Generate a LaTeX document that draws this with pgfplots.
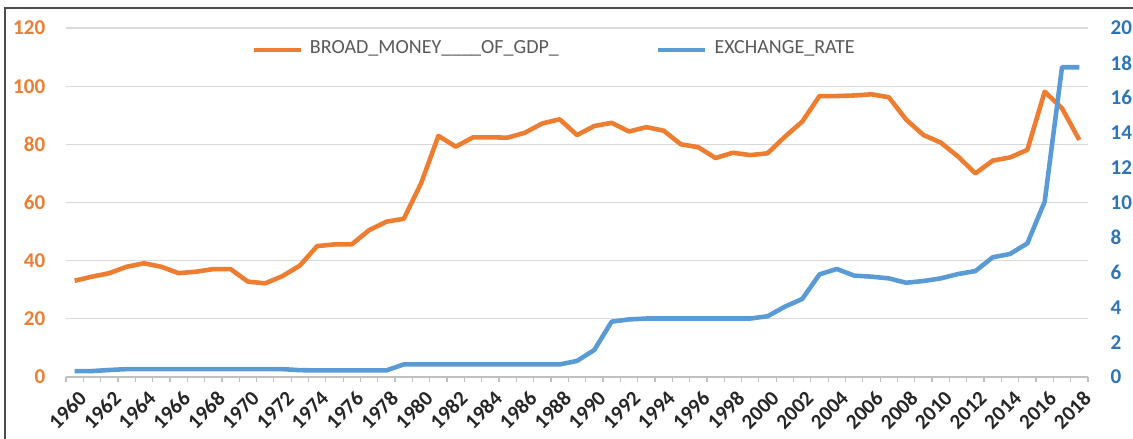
\documentclass[border=0pt]{standalone}
\usepackage{fontspec}
\setmainfont{Carlito}
\usepackage{pgfplots}
\usepackage{pgfplotstable}
\pgfplotsset{compat=1.18}

\definecolor{bmorange}{HTML}{ED7D31}
\definecolor{xrblue}{HTML}{5B9BD5}
\definecolor{xrtick}{HTML}{2E75B6}
\definecolor{gridgray}{HTML}{D9D9D9}
\definecolor{axisgray}{HTML}{BFBFBF}
\definecolor{legtext}{HTML}{595959}

% year, broad money (% of GDP), exchange rate
\pgfplotstableread{
year bm xr
1960 33.1 0.34
1961 34.5 0.34
1962 35.7 0.40
1963 37.9 0.45
1964 39.1 0.45
1965 37.9 0.45
1966 35.7 0.45
1967 36.2 0.45
1968 37.1 0.45
1969 37.1 0.45
1970 32.8 0.45
1971 32.2 0.45
1972 34.7 0.45
1973 38.3 0.39
1974 45.0 0.38
1975 45.6 0.38
1976 45.6 0.38
1977 50.5 0.38
1978 53.4 0.38
1979 54.4 0.72
1980 66.6 0.72
1981 82.9 0.72
1982 79.2 0.72
1983 82.4 0.72
1984 82.4 0.72
1985 82.3 0.72
1986 84.0 0.72
1987 87.2 0.72
1988 88.6 0.72
1989 83.2 0.92
1990 86.3 1.55
1991 87.4 3.17
1992 84.4 3.30
1993 85.9 3.35
1994 84.7 3.35
1995 80.0 3.35
1996 79.0 3.35
1997 75.3 3.35
1998 77.1 3.35
1999 76.3 3.35
2000 76.9 3.48
2001 82.6 4.03
2002 87.8 4.47
2003 96.6 5.88
2004 96.6 6.19
2005 96.8 5.81
2006 97.2 5.75
2007 96.2 5.65
2008 88.5 5.40
2009 83.2 5.50
2010 80.6 5.65
2011 75.8 5.90
2012 70.0 6.07
2013 74.4 6.86
2014 75.5 7.05
2015 78.1 7.66
2016 98.1 10.05
2017 92.4 17.75
2018 81.5 17.75
}\datatable

\begin{document}
\begin{tikzpicture}
\useasboundingbox (0,0) rectangle (11.33cm,4.39cm);
% outer chart frame (only left and top edges visible)
\draw[gray!60!black, line width=0.4pt] (0.05cm,0) -- (0.05cm,4.31cm) -- (11.33cm,4.31cm);

\begin{axis}[
  at={(0.66cm,0.62cm)}, anchor=south west,
  scale only axis, width=10.22cm, height=3.49cm,
  xmin=1959.5, xmax=2018.5,
  ymin=0, ymax=120,
  axis x line*=bottom, axis y line*=left,
  x axis line style={draw=axisgray, line width=0.35pt},
  y axis line style={draw=none},
  xtick={1960,1962,...,2018},
  minor xtick={1959.5,1960.5,...,2018.5},
  major tick length=0pt,
  minor tick length=0.05cm,
  xtick align=outside,
  minor x tick style={draw=axisgray, line width=0.35pt},
  ytick={0,20,...,120},
  ymajorgrids,
  grid style={draw=gridgray, line width=0.35pt},
  /pgf/number format/assume math mode=true,
  xticklabel={\pgfmathprintnumber[1000 sep={}]{\tick}},
  xticklabel style={font=\fontsize{6}{7}\selectfont\bfseries, text=black!85,
    rotate=45, anchor=north east, inner sep=1pt, yshift=-0.07cm, xshift=-0.03cm},
  yticklabel style={font=\fontsize{6}{7}\selectfont\bfseries, text=bmorange,
    inner sep=0pt, xshift=-0.2cm},
  legend columns=2,
  legend style={draw=none, fill=none, at={(0.48,0.937)}, anchor=center,
    font=\fontsize{5.7}{7}\selectfont, text=legtext,
    /tikz/every even column/.append style={column sep=0.9cm}},
  legend image code/.code={\draw[#1, line width=1.3pt] (0cm,0cm) -- (0.47cm,0cm);},
]
\addplot[bmorange, line width=1.3pt, line join=round] table[x=year, y=bm] {\datatable};
\addlegendentry{BROAD\_MONEY\_\_\_\_OF\_GDP\_}
\addlegendimage{xrblue, line width=1.3pt}
\addlegendentry{EXCHANGE\_RATE}
\end{axis}

\begin{axis}[
  at={(0.66cm,0.62cm)}, anchor=south west,
  scale only axis, width=10.22cm, height=3.49cm,
  xmin=1959.5, xmax=2018.5,
  ymin=0, ymax=20,
  axis x line=none, axis y line*=right,
  y axis line style={draw=none},
  major tick length=0pt,
  ytick={0,2,...,20},
  /pgf/number format/assume math mode=true,
  yticklabel style={font=\fontsize{6}{7}\selectfont\bfseries, text=xrtick,
    inner sep=0pt, anchor=west, xshift=0.22cm},
]
\addplot[xrblue, line width=1.3pt, line join=round] table[x=year, y=xr] {\datatable};
\end{axis}
\end{tikzpicture}
\end{document}
